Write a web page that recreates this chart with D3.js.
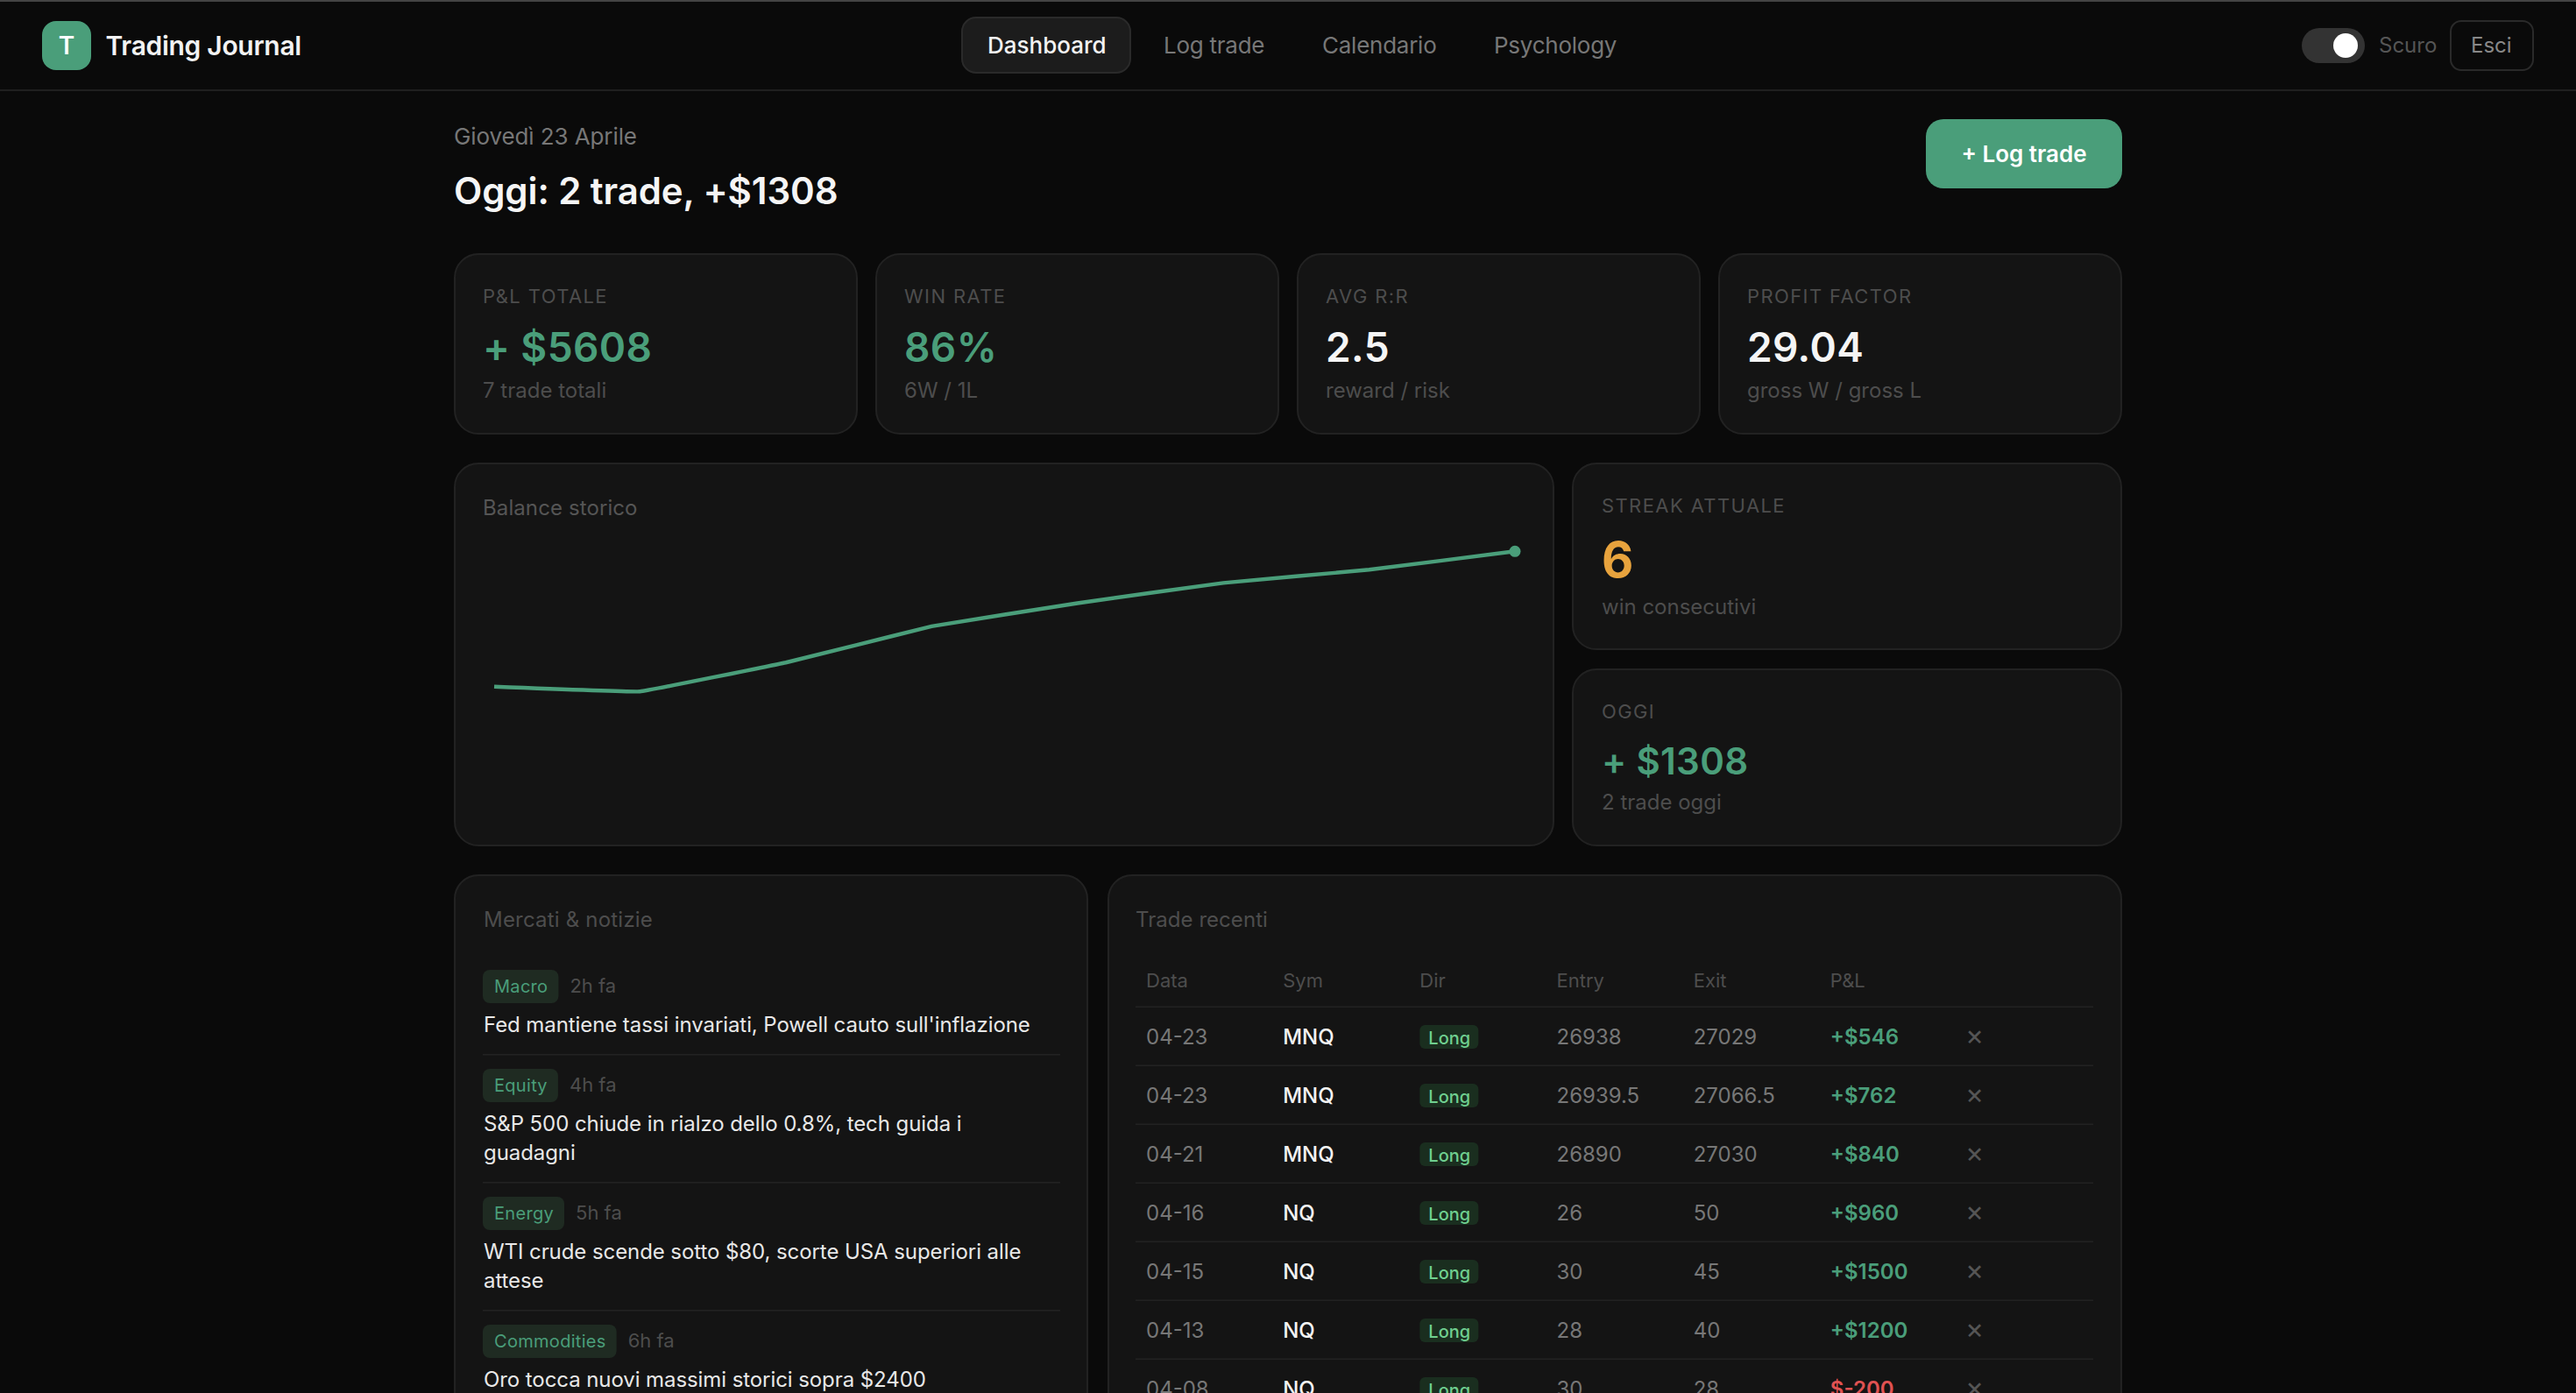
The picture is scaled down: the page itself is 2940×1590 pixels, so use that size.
<!DOCTYPE html>
<html>
<head>
<meta charset="utf-8">
<title>Trading Journal</title>
<script src="https://cdn.jsdelivr.net/npm/d3@7"></script>
<style>
  html, body { margin: 0; padding: 0; background: #0a0a0a; overflow: hidden; }
  svg { display: block; }
  text { font-family: Inter, "Noto Sans", sans-serif; }
</style>
</head>
<body>
<svg id="page" width="2940" height="1590"></svg>
<script>
// data
var navLabels = ['Dashboard', 'Log trade', 'Calendario', 'Psychology'];
var statLabels = ['P&L TOTALE', 'WIN RATE', 'AVG R:R', 'PROFIT FACTOR'];
var statValues = ['+ $5608', '86%', '2.5', '29.04'];
var statSubs = ['7 trade totali', '6W / 1L', 'reward / risk', 'gross W / gross L'];
var statIsGreen = [true, true, false, false];

var balanceValues = [0, -200, 1000, 2500, 3460, 4300, 4846, 5608];

var newsTags = ['Macro', 'Equity', 'Energy', 'Commodities'];
var newsAges = ['2h fa', '4h fa', '5h fa', '6h fa'];
var newsTitles = [
  ["Fed mantiene tassi invariati, Powell cauto sull'inflazione"],
  ['S&P 500 chiude in rialzo dello 0.8%, tech guida i', 'guadagni'],
  ['WTI crude scende sotto $80, scorte USA superiori alle', 'attese'],
  ['Oro tocca nuovi massimi storici sopra $2400']
];

var tradeHeaders = ['Data', 'Sym', 'Dir', 'Entry', 'Exit', 'P&L'];
var tradeDates = ['04-23', '04-23', '04-21', '04-16', '04-15', '04-13', '04-08'];
var tradeSyms = ['MNQ', 'MNQ', 'MNQ', 'NQ', 'NQ', 'NQ', 'NQ'];
var tradeDirs = ['Long', 'Long', 'Long', 'Long', 'Long', 'Long', 'Long'];
var tradeEntries = ['26938', '26939.5', '26890', '26', '30', '28', '30'];
var tradeExits = ['27029', '27066.5', '27030', '50', '45', '40', '28'];
var tradePnl = [546, 762, 840, 960, 1500, 1200, -200];

var GREEN = '#4a9e7a', CARD = '#141414', EDGE = '#222222', DIM = '#4d4d4d', MID = '#777777';

var svg = d3.select('#page');

function label(g, x, y, str, size, fill, weight, spacing) {
  return g.append('text')
    .attr('x', x).attr('y', y)
    .attr('font-size', size)
    .attr('font-weight', weight || 400)
    .attr('letter-spacing', spacing || 0)
    .attr('fill', fill)
    .text(str);
}

function card(x, y, w, h) {
  svg.append('rect')
    .attr('x', x + 1).attr('y', y + 1)
    .attr('width', w - 2).attr('height', h - 2)
    .attr('rx', 27)
    .attr('fill', CARD).attr('stroke', EDGE).attr('stroke-width', 2);
}

// ---- header
svg.append('rect').attr('width', 2940).attr('height', 2).attr('fill', '#444');
svg.append('rect').attr('y', 102).attr('width', 2940).attr('height', 2).attr('fill', '#1f1f1f');
svg.append('rect').attr('x', 48).attr('y', 24).attr('width', 56).attr('height', 56).attr('rx', 16).attr('fill', GREEN);
label(svg, 76, 62, 'T', 28, '#fff', 600).attr('text-anchor', 'middle');
label(svg, 120.5, 63, 'Trading Journal', 30, '#f2f2f2', 600, -0.3);

var navStarts = [1127, 1328, 1509, 1705];
svg.append('rect').attr('x', 1098).attr('y', 20).attr('width', 192).attr('height', 63).attr('rx', 16)
  .attr('fill', '#1c1c1c').attr('stroke', '#2a2a2a').attr('stroke-width', 2);
navLabels.forEach(function(d, i) {
  label(svg, navStarts[i], 61, d, 26, i === 0 ? '#f2f2f2' : MID, i === 0 ? 500 : 400, i === 0 ? 0 : -0.25);
});

svg.append('rect').attr('x', 2627).attr('y', 32).attr('width', 72).attr('height', 40).attr('rx', 20).attr('fill', '#333');
svg.append('circle').attr('cx', 2677).attr('cy', 52).attr('r', 14).attr('fill', '#fff');
label(svg, 2715, 60, 'Scuro', 24, '#555', 400);
svg.append('rect').attr('x', 2797).attr('y', 24).attr('width', 94).attr('height', 56).attr('rx', 12)
  .attr('fill', 'none').attr('stroke', '#2a2a2a').attr('stroke-width', 2);
label(svg, 2820, 60, 'Esci', 24, '#888', 400);

// ---- greeting
label(svg, 518, 165, 'Giovedì 23 Aprile', 26, MID, 400, -0.1);
label(svg, 518, 233, 'Oggi: 2 trade, +$1308', 42, '#f5f5f5', 600, -0.1);
svg.append('rect').attr('x', 2198).attr('y', 136).attr('width', 224).attr('height', 79).attr('rx', 20).attr('fill', GREEN);
label(svg, 2310, 185, '+ Log trade', 26, '#fff', 600).attr('text-anchor', 'middle');

// ---- stat cards
var statX = d3.scaleBand().domain(d3.range(statLabels.length)).range([518, 2422]).paddingInner(20 / 481);
statLabels.forEach(function(d, i) {
  var x = statX(i);
  card(x, 289, statX.bandwidth(), 207);
  label(svg, x + 33, 346, d, 22, DIM, 400, 1.4);
  label(svg, x + 33, 412.5, statValues[i], 46, statIsGreen[i] ? GREEN : '#f5f5f5', 600, 0.4);
  label(svg, x + 33, 454, statSubs[i], 24, DIM, 400);
});

// ---- balance chart
card(518, 528, 1256, 438);
label(svg, 551, 588, 'Balance storico', 24, '#555', 400, 0.1);

var xBal = d3.scaleLinear().domain([0, balanceValues.length - 1]).range([564, 1729]);
var yBal = d3.scaleLinear().domain([d3.min(balanceValues), d3.max(balanceValues)]).range([789.3, 629.3]);
var balLine = d3.line()
  .x(function(d, i) { return xBal(i); })
  .y(function(d) { return yBal(d); })
  .curve(d3.curveCardinal.tension(0.85));

svg.append('path').datum(balanceValues)
  .attr('d', balLine)
  .attr('fill', 'none').attr('stroke', GREEN).attr('stroke-width', 4.4);
svg.append('circle')
  .attr('cx', xBal(balanceValues.length - 1))
  .attr('cy', yBal(balanceValues[balanceValues.length - 1]))
  .attr('r', 6.5).attr('fill', GREEN);

// ---- streak + oggi
card(1794, 528, 628, 214);
label(svg, 1828, 585, 'STREAK ATTUALE', 22, DIM, 400, 1.4);
label(svg, 1828, 659, '6', 56, '#e8a33d', 700);
label(svg, 1828, 701, 'win consecutivi', 24, DIM, 400);

card(1794, 763, 628, 203);
label(svg, 1828, 820, 'OGGI', 22, DIM, 400, 1.4);
label(svg, 1828, 884, '+ $1308', 42, GREEN, 600, 0.3);
label(svg, 1828, 924, '2 trade oggi', 24, DIM, 400);

// ---- news
card(518, 998, 724, 640);
label(svg, 552, 1058, 'Mercati & notizie', 24, '#4d4d4d', 400, 0.2);

var newsY = 1107;
newsTags.forEach(function(tag, i) {
  var g = svg.append('g');
  var t = label(g, 564, newsY + 26, tag, 20, GREEN, 400, 0.3);
  var w = t.node().getComputedTextLength() + 25;
  g.insert('rect', 'text')
    .attr('x', 551).attr('y', newsY).attr('width', w).attr('height', 38).attr('rx', 8)
    .attr('fill', '#1f2b22');
  label(g, 551 + w + 13, newsY + 26, newsAges[i], 22, '#4d4d4d', 400);
  newsTitles[i].forEach(function(line, j) {
    label(g, 552, newsY + 71 + j * 33, line, 24, '#e8e8e8', 400, -0.08);
  });
  var rowBottom = newsY + 96 + (newsTitles[i].length - 1) * 33;
  if (i < newsTags.length - 1) {
    g.append('rect').attr('x', 551).attr('y', rowBottom).attr('width', 659).attr('height', 1.5).attr('fill', EDGE);
  }
  newsY = rowBottom + 17;
});

// ---- trades table
card(1264, 998, 1158, 640);
label(svg, 1296, 1058, 'Trade recenti', 24, '#4d4d4d', 400, 0.05);

var colX = d3.scaleLinear().domain([0, 6]).range([1308, 2245]);
var rowY = d3.scaleLinear().domain([0, 1]).range([1148.5, 1215.5]);

tradeHeaders.forEach(function(d, i) {
  label(svg, colX(i), 1127, d, 22, DIM, 400);
});

svg.selectAll('rect.rule')
  .data(tradeDates)
  .enter().append('rect')
  .attr('class', 'rule')
  .attr('x', 1296).attr('width', 1093).attr('height', 1.5)
  .attr('y', function(d, i) { return rowY(i); })
  .attr('fill', EDGE);

tradeDates.forEach(function(d, i) {
  var base = rowY(i) + 43;
  label(svg, colX(0), base, d, 24, MID, 400);
  label(svg, colX(1), base, tradeSyms[i], 24, '#f2f2f2', 500);
  svg.append('rect')
    .attr('x', colX(2)).attr('y', rowY(i) + 21.5).attr('width', 67).attr('height', 27).attr('rx', 6)
    .attr('fill', '#1a2e1f');
  label(svg, colX(2) + 10, base, tradeDirs[i], 20, '#6fcf8f', 500);
  label(svg, colX(3), base, tradeEntries[i], 24, MID, 400);
  label(svg, colX(4), base, tradeExits[i], 24, MID, 400);
  var v = tradePnl[i];
  label(svg, colX(5), base, v >= 0 ? '+$' + v : '$' + v, 24, v >= 0 ? GREEN : '#e05252', 600);
  label(svg, colX(6) - 2, base + 1, '×', 32, '#555', 400);
});
</script>
</body>
</html>
